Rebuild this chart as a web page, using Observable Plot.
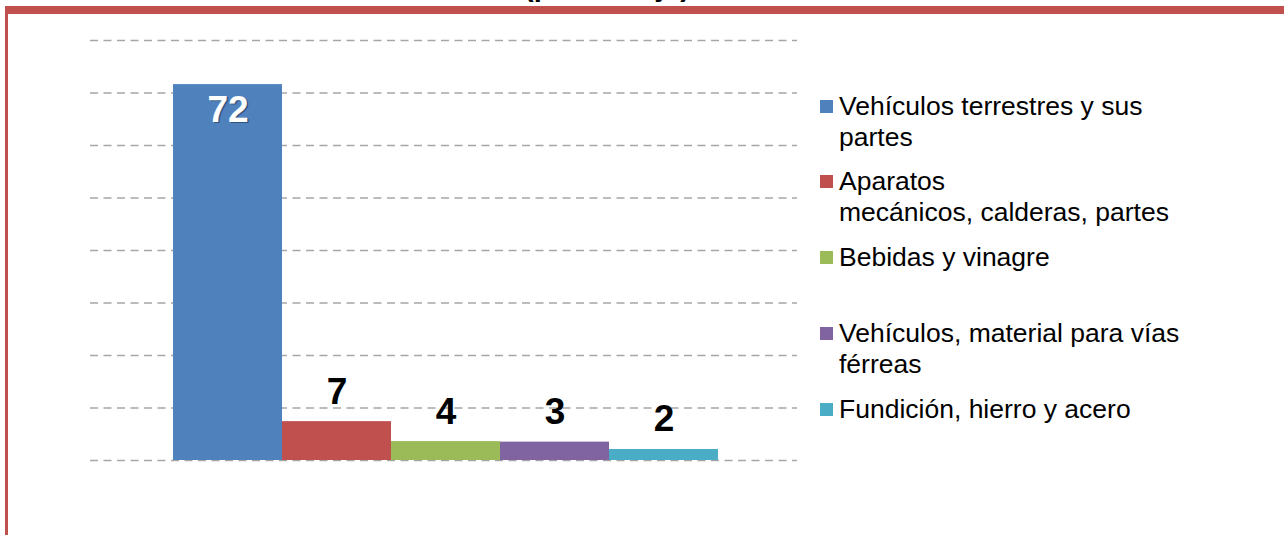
<!DOCTYPE html>
<html>
<head>
<meta charset="utf-8">
<script src="https://cdn.jsdelivr.net/npm/d3@7"></script>
<script src="https://cdn.jsdelivr.net/npm/@observablehq/plot@0.6"></script>
<style>
  html, body { margin: 0; padding: 0; background: #fff; overflow: hidden; }
  #wrap { position: relative; width: 1284px; height: 535px; overflow: hidden; font-family: "Liberation Sans", Arial, sans-serif; }
  #title { position: absolute; left: 524px; top: -28px; font-size: 29px; line-height: 29px; font-weight: bold; color: #000; white-space: nowrap; }
  #frame { position: absolute; left: 5px; top: 6px; width: 1400px; height: 600px; border-top: 8px solid #C0504D; border-left: 3px solid #C0504D; box-sizing: border-box; }
  #chart { position: absolute; left: 0; top: 0; }
  #legend { position: absolute; left: 820px; top: 90.5px; }
  .item { height: 75.9px; display: flex; align-items: flex-start; }
  .sw { width: 13px; height: 13px; margin-top: 9px; margin-right: 6px; flex: none; }
  .txt { font-size: 26.5px; line-height: 31px; color: #000; white-space: nowrap; }
</style>
</head>
<body>
<div id="wrap">
  <div id="title"></div>
  <div id="chart"></div>
  <div id="frame"></div>
  <div id="legend"></div>
</div>
<script>
// ---- data ----
const titleText = "(porcentaje)";
const categories = [
  "Vehículos terrestres y sus partes",
  "Aparatos mecánicos, calderas, partes",
  "Bebidas y vinagre",
  "Vehículos, material para vías férreas",
  "Fundición, hierro y acero"
];
const values = [71.6, 7.4, 3.6, 3.5, 2.1];
const valueLabels = ["72", "7", "4", "3", "2"];
const colors = ["#4F81BD", "#C0504D", "#9BBB59", "#8064A2", "#4BACC6"];
const legendLines = [
  ["Vehículos terrestres y sus", "partes"],
  ["Aparatos", "mecánicos, calderas, partes"],
  ["Bebidas y vinagre"],
  ["Vehículos, material para vías", "férreas"],
  ["Fundición, hierro y acero"]
];
const yTicks = [0, 10, 20, 30, 40, 50, 60, 70, 80];

// ---- build ----
document.getElementById("title").textContent = titleText;

const data = categories.map((c, i) => ({category: c, value: values[i], label: valueLabels[i]}));
const font = "Liberation Sans, Arial, sans-serif";

const chart = Plot.plot({
  width: 1284,
  height: 535,
  marginLeft: 90,
  marginRight: 487,
  marginTop: 40,
  marginBottom: 75,
  style: {background: "transparent", fontFamily: font},
  x: {domain: categories, paddingInner: 0, paddingOuter: 0.743, align: 0.512, axis: null},
  y: {domain: [0, 80], axis: null},
  color: {domain: categories, range: colors},
  marks: [
    Plot.ruleY(yTicks, {stroke: "#A6A6A6", strokeWidth: 1.6, strokeDasharray: "8,5.5"}),
    Plot.barY(data, {x: "category", y: "value", fill: "category"}),
    Plot.text(data.slice(0, 1), {x: "category", y: "value", text: "label", lineAnchor: "top", dy: 12.5, dx: 1.5,
      fill: "#000", fillOpacity: 0.35, fontSize: 37, fontWeight: "bold", fontFamily: font}),
    Plot.text(data.slice(0, 1), {x: "category", y: "value", text: "label", lineAnchor: "top", dy: 11,
      fill: "#fff", fontSize: 37, fontWeight: "bold", fontFamily: font}),
    Plot.text(data.slice(1), {x: "category", y: "value", text: "label", lineAnchor: "bottom", dy: -18,
      fill: "#000", fontSize: 37, fontWeight: "bold", fontFamily: font})
  ]
});
document.getElementById("chart").appendChild(chart);

const legend = document.getElementById("legend");
legendLines.forEach((lines, i) => {
  const item = document.createElement("div");
  item.className = "item";
  const sw = document.createElement("div");
  sw.className = "sw";
  sw.style.background = colors[i];
  const txt = document.createElement("div");
  txt.className = "txt";
  lines.forEach((l, j) => {
    if (j) txt.appendChild(document.createElement("br"));
    txt.appendChild(document.createTextNode(l));
  });
  item.appendChild(sw);
  item.appendChild(txt);
  legend.appendChild(item);
});
</script>
</body>
</html>
